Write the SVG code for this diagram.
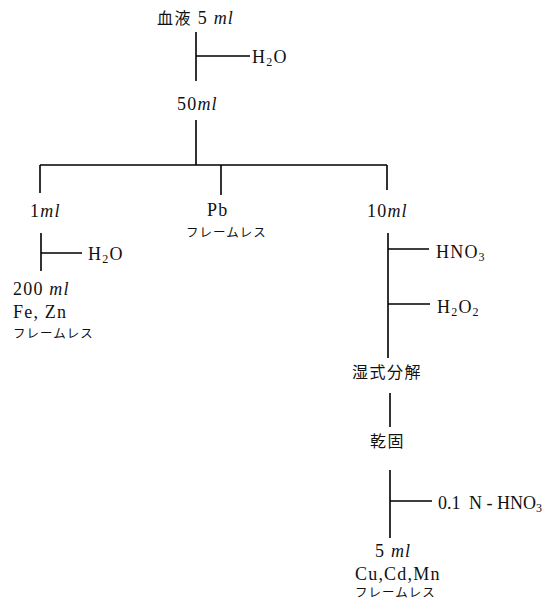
<svg xmlns="http://www.w3.org/2000/svg" width="543" height="599" viewBox="0 0 543 599">
<style>
.c{stroke:#000;stroke-width:1.6;fill:none}
text{font-family:"Liberation Serif","Noto Sans CJK JP",serif;font-size:18px;fill:#111;letter-spacing:1.2px}
.i{font-style:italic}
.s{font-size:12px}
.k{font-size:12.5px;letter-spacing:1px}
.j{font-size:16px;letter-spacing:1.5px}
.n{letter-spacing:0}
</style>
<rect width="543" height="599" fill="#fff"/>
<g id="connectors" class="c">
<path d="M196 32V81M196 56H250"/>
<path d="M196 120V165M40 165H387M40 165V193M221 165V195M387 165V190"/>
<path d="M41 233V271M41 253H82"/>
<path d="M388 233V358M388 249H429M388 304H430"/>
<path d="M390 393V427"/>
<path d="M390 470V538M390 501H432"/>
</g>
<g id="blood"><text x="157" y="24"><tspan class="j">血液</tspan> 5 <tspan class="i">ml</tspan></text></g>
<g id="h2o-1"><text x="252" y="63">H<tspan class="s" dy="3">2</tspan><tspan dy="-3">O</tspan></text></g>
<g id="v50"><text x="177" y="110">50<tspan class="i">ml</tspan></text></g>
<g id="v1"><text x="30" y="217">1<tspan class="i">ml</tspan></text></g>
<g id="pb"><text x="207" y="216">Pb</text><text x="186" y="237" class="k">フレームレス</text></g>
<g id="v10"><text x="367" y="217">10<tspan class="i">ml</tspan></text></g>
<g id="h2o-2"><text x="88" y="260">H<tspan class="s" dy="3">2</tspan><tspan dy="-3">O</tspan></text></g>
<g id="fezn"><text x="13" y="295">200 <tspan class="i">ml</tspan></text><text x="13" y="318">Fe, Zn</text><text x="13" y="338" class="k">フレームレス</text></g>
<g id="hno3"><text x="436" y="258">HNO<tspan class="s" dy="3">3</tspan></text></g>
<g id="h2o2"><text x="437" y="313">H<tspan class="s" dy="3">2</tspan><tspan dy="-3">O</tspan><tspan class="s" dy="3">2</tspan></text></g>
<g id="wet"><text x="352" y="378" class="j">湿式分解</text></g>
<g id="dry"><text x="370" y="447" class="j">乾固</text></g>
<g id="hno3-01"><text x="438" y="509" class="n">0.1 <tspan dx="4">N - HNO</tspan><tspan class="s" dy="3">3</tspan></text></g>
<g id="cucdmn"><text x="375" y="557">5 <tspan class="i">ml</tspan></text><text x="355" y="580">Cu,Cd,Mn</text><text x="355" y="597" class="k">フレームレス</text></g>
</svg>
